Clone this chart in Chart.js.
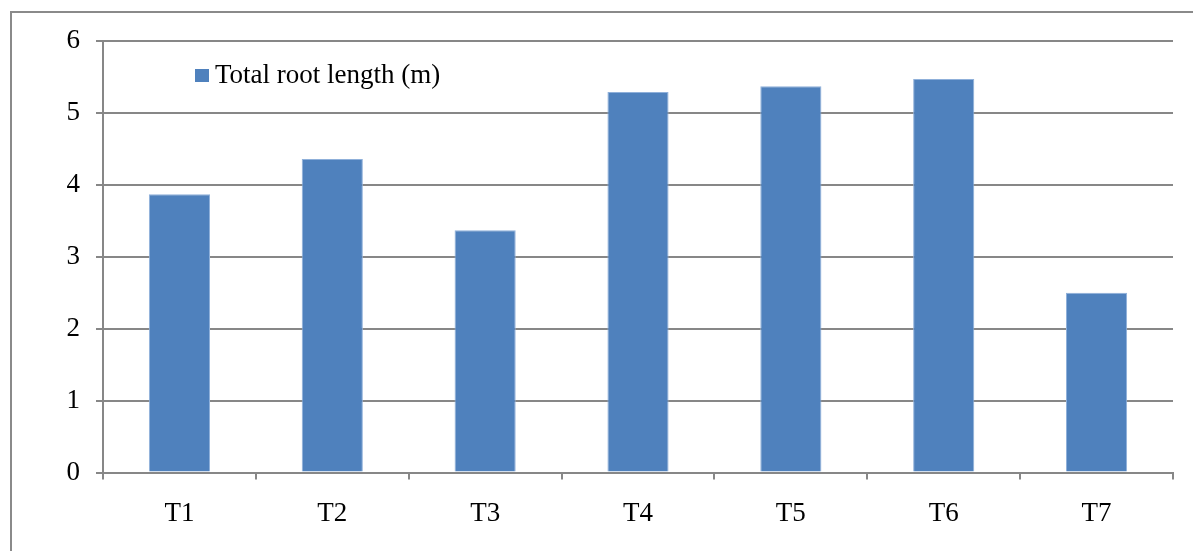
<!DOCTYPE html>
<html>
<head>
<meta charset="utf-8">
<script src="https://cdn.jsdelivr.net/npm/chart.js@4.4.1/dist/chart.umd.min.js"></script>
<style>
  html, body { margin: 0; padding: 0; background: #fff; overflow: hidden; }
  #wrap { position: absolute; left: 0; top: 0; width: 1193px; height: 551px; }
  #frame { position: absolute; left: 10px; top: 11px; width: 1300px; height: 700px;
           border-left: 2px solid #8a8a8a; border-top: 2px solid #8a8a8a; }
  canvas { position: absolute; left: 0; top: 0; }
</style>
</head>
<body>
<div id="wrap">
  <div id="frame"></div>
  <canvas id="c" width="1193" height="551"></canvas>
</div>
<script>
// Treatments and measured total root length per treatment
const categories = ['T1', 'T2', 'T3', 'T4', 'T5', 'T6', 'T7'];
const rootLength = [3.87, 4.36, 3.37, 5.29, 5.37, 5.47, 2.50];
const seriesLabel = 'Total root length (m)';
const yTicks = [0, 1, 2, 3, 4, 5, 6];

const FONT = '"Liberation Serif", "Times New Roman", serif';
const GRID = '#878787';
const BAR = '#4F81BD';

// Legend drawn inside the plot area, near its top-left
const insideLegend = {
  id: 'insideLegend',
  afterDraw(chart) {
    const ctx = chart.ctx;
    const ds = chart.data.datasets[0];
    ctx.save();
    ctx.fillStyle = ds.backgroundColor;
    ctx.fillRect(195, 69, 14, 13);
    ctx.fillStyle = '#000';
    ctx.font = '27px ' + FONT;
    ctx.textBaseline = 'middle';
    ctx.textAlign = 'left';
    ctx.fillText(ds.label, 215, 76);
    ctx.restore();
  }
};

new Chart(document.getElementById('c'), {
  type: 'bar',
  data: {
    labels: categories,
    datasets: [{
      label: seriesLabel,
      data: rootLength,
      backgroundColor: BAR,
      borderColor: '#8fb0da',
      borderWidth: 1,
      barPercentage: 0.4,
      categoryPercentage: 1.0
    }]
  },
  options: {
    responsive: false,
    animation: false,
    layout: { padding: { left: 0, right: 20, top: 41, bottom: 0 } },
    plugins: { legend: { display: false }, tooltip: { enabled: false } },
    scales: {
      x: {
        afterFit(scale) { scale.height = 78.5; },
        grid: { drawOnChartArea: false, offset: true, tickLength: 7, color: GRID, lineWidth: 2 },
        border: { color: GRID, width: 2 },
        ticks: { color: '#000', font: { family: FONT, size: 27 }, padding: 18 }
      },
      y: {
        min: 0, max: 6,
        afterFit(scale) { scale.width = 103; },
        afterBuildTicks(scale) { scale.ticks = yTicks.map(v => ({ value: v })); },
        grid: { color: GRID, lineWidth: 2, tickLength: 7 },
        border: { color: GRID, width: 2 },
        ticks: { color: '#000', font: { family: FONT, size: 27 }, padding: 16 }
      }
    }
  },
  plugins: [insideLegend]
});
</script>
</body>
</html>
